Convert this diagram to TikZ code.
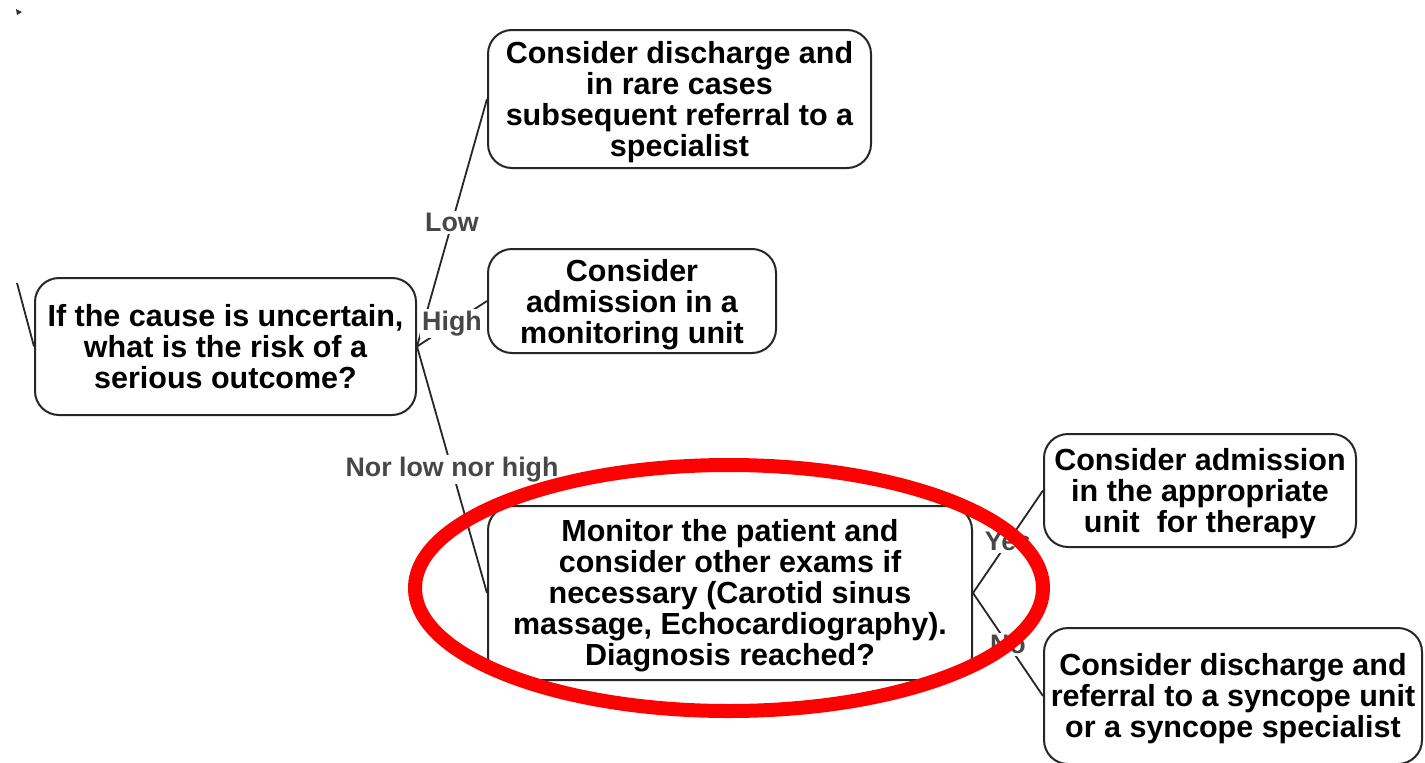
\documentclass[tikz,border=0pt]{standalone}
\usepackage{fontspec}
\newfontfamily\lsans{Liberation Sans}
\begin{document}
\begin{tikzpicture}[x=1pt,y=-1pt,
  box/.style={draw=black!85, line width=2pt, rounded corners=24pt, inner sep=0pt},
  txt/.style={align=center, inner sep=0pt, font=\lsans\bfseries\fontsize{30.5}{31}\selectfont},
  lab/.style={fill=white, text=black!72, inner sep=2pt, font=\lsans\bfseries\fontsize{26.8}{27}\selectfont},
  conn/.style={draw=black!85, line width=1.8pt}]
\useasboundingbox (0,0) rectangle (1425,763);
\fill[white] (0,0) rectangle (1425,763);

\node[box, minimum width=383pt, minimum height=138pt] (top) at (679.5,99) {};
\node[txt] (toptxt) at ([yshift=-3pt]top.center) {Consider discharge and\\in rare cases\\subsequent referral to a\\specialist};
\node[box, minimum width=288pt, minimum height=104pt] (mon) at (632,301) {};
\node[txt] (montxt) at ([yshift=-3.5pt]mon.center) {Consider\\admission in a\\monitoring unit};
\node[box, minimum width=381pt, minimum height=137pt] (risk) at (225.5,346.5) {};
\node[txt] (risktxt) at ([yshift=-0.5pt]risk.center) {If the cause is uncertain,\\what is the risk of a\\serious outcome?};
\node[box, minimum width=484pt, minimum height=174pt] (monitor) at (730,593) {};
\node[txt] (monitortxt) at ([yshift=-3pt]monitor.center) {Monitor the patient and\\consider other exams if\\necessary (Carotid sinus\\massage, Echocardiography).\\Diagnosis reached?};
\node[box, minimum width=312pt, minimum height=113pt] (adm) at (1200,490.5) {};
\node[txt] (admtxt) at ([yshift=-3pt]adm.center) {Consider admission\\in the appropriate\\unit\ \ for therapy};
\node[box, minimum width=378pt, minimum height=136pt] (dis) at (1233,696) {};
\node[txt] (distxt) at ([yshift=-3pt]dis.center) {Consider discharge and\\referral to a syncope unit\\or a syncope specialist};

\coordinate (stray) at (17,283);
\draw[conn] (risk.west) -- (stray);
\fill[black!80] (16,9) -- (22,12) -- (17,15) -- cycle;

\draw[conn] (risk.east) -- node[lab]{Low} (top.west);
\draw[conn] (risk.east) -- node[lab]{High} (mon.west);
\draw[conn] (risk.east) -- node[lab]{Nor low nor high} (monitor.west);
\draw[conn] (monitor.east) -- node[lab]{Yes} (adm.west);
\draw[conn] (monitor.east) -- node[lab]{No} (dis.west);

\draw[red, line width=14pt] (729,588) ellipse [x radius=314, y radius=123];
\end{tikzpicture}
\end{document}
